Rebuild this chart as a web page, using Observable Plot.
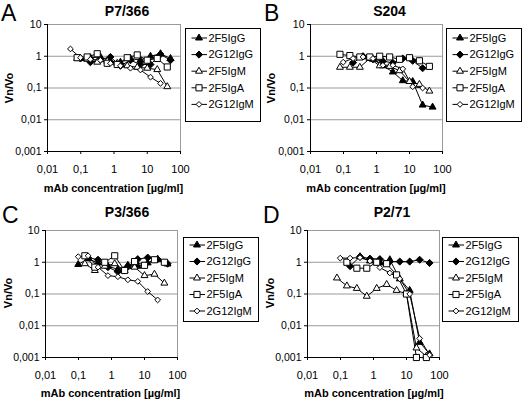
<!DOCTYPE html>
<html><head><meta charset="utf-8">
<script src="https://cdn.jsdelivr.net/npm/d3@7"></script>
<script src="https://cdn.jsdelivr.net/npm/@observablehq/plot@0.6"></script>
<style>
body{margin:0;background:#fff;}
#fig{position:relative;width:523px;height:404px;overflow:hidden;background:#fff;font-family:"Liberation Sans",Arial,sans-serif;color:#000;}
.abs{position:absolute;white-space:nowrap;line-height:1;}
</style></head><body><div id="fig"></div>
<script>
// ---- labels ----
const seriesNames = ["2F5IgG","2G12IgG","2F5IgM","2F5IgA","2G12IgM"];
const panelLetters = ["A","B","C","D"];
const panelTitles = ["P7/366","S204","P3/366","P2/71"];
const xTicks = [0.01, 0.1, 1, 10, 100];
const yTicks = [0.001, 0.01, 0.1, 1, 10];
const xLabel = "mAb concentration [µg/ml]";
const yLabel = "Vn/Vo";

// ---- concentration series (µg/ml) ----
const concG = [0.098, 0.195, 0.39, 0.78, 1.56, 3.125, 6.25, 12.5, 25, 50];
const concM = [0.078, 0.156, 0.3125, 0.625, 1.25, 2.5, 5, 10, 20, 40];
const concL = [0.049, 0.098, 0.195, 0.39, 0.78, 1.56, 3.125, 6.25, 12.5, 25];

// ---- A: P7/366 ----
const A_2F5IgG  = [0.85, 0.9, 0.95, 0.7, 0.65, 0.85, 0.75, 1.0, 1.2, 0.85];
const A_2G12IgG = [0.85, 0.65, 0.8, 0.95, 0.5, 0.75, 0.55, 0.55, 1.15, 0.75];
const A_2F5IgM  = [0.85, 0.8, 0.65, 0.7, 0.6, 0.5, 0.45, 0.42, 0.38, 0.11];
const A_2F5IgA  = [0.9, 0.95, 1.2, 0.6, 0.55, 0.9, 1.1, 0.75, 0.85, 0.46];
const A_2G12IgM = [1.7, 0.9, 0.8, 0.75, 0.6, 0.5, 0.42, 0.37, 0.22, 0.14];
// ---- B: S204 ----
const B_2F5IgG  = [null, null, 0.95, 0.8, 0.5, 0.32, 0.17, 0.16, 0.029, 0.025];
const B_2G12IgG = [null, 0.63, 1.0, 0.8, 0.7, 0.62, 0.85, 0.72, 0.42, null];
const B_2F5IgM  = [0.45, 0.45, 0.45, 0.85, 0.5, 0.48, 0.35, 0.16, 0.13, 0.08];
const B_2F5IgA  = [1.15, 1.05, 0.95, 0.95, 1.0, 0.95, 0.8, 0.9, 0.72, 0.48];
const B_2G12IgM = [0.65, 0.85, 0.95, 0.85, 0.52, 0.52, 0.4, 0.11, 0.1, null];
// ---- C: P3/366 ----
const C_2F5IgG  = [0.85, 1.3, 0.95, 0.75, 0.6, 0.8, 0.75, 0.95, 1.25, 0.88];
const C_2G12IgG = [null, 1.4, 1.2, 0.7, 0.5, 0.75, 1.25, 1.4, 1.25, 0.9];
const C_2F5IgM  = [null, 0.9, 0.55, 0.75, 0.9, 0.55, 0.7, 0.38, 0.42, 0.22];
const C_2F5IgA  = [null, 1.6, 0.7, 1.0, 1.6, 0.55, 1.05, 0.8, 1.2, 1.0];
const C_2G12IgM = [1.5, 1.6, 0.7, 0.38, 0.35, 0.28, 0.25, 0.12, 0.065, null];
// ---- D: P2/71 ----
const D_2F5IgG  = [null, null, 1.5, 1.1, 0.95, 1.2, 0.3, 0.13, 0.003, 0.0013];
const D_2G12IgG = [null, 0.75, 1.5, 1.3, 1.25, 1.05, 1.05, 1.05, 1.2, 0.95];
const D_2F5IgM  = [0.32, 0.18, 0.15, 0.085, 0.15, 0.2, 0.13, 0.1, 0.002, 0.0011];
const D_2F5IgA  = [null, 1.0, 0.65, 0.65, 1.0, 0.9, 0.4, 0.1, 0.001, 0.001];
const D_2G12IgM = [1.35, 1.35, 1.4, 1.1, 0.68, 0.46, 0.3, 0.1, 0.004, 0.0012];

const panelValues = [
  [A_2F5IgG, A_2G12IgG, A_2F5IgM, A_2F5IgA, A_2G12IgM],
  [B_2F5IgG, B_2G12IgG, B_2F5IgM, B_2F5IgA, B_2G12IgM],
  [C_2F5IgG, C_2G12IgG, C_2F5IgM, C_2F5IgA, C_2G12IgM],
  [D_2F5IgG, D_2G12IgG, D_2F5IgM, D_2F5IgA, D_2G12IgM]
];
const panelConc = [
  [concG, concG, concM, concM, concL],
  [concG, concG, concM, concM, concG],
  [concG, concG, concM, concM, concG],
  [concG, concG, concM, concM, concG]
];

// ---- styling ----
const FONT = '"Liberation Sans", Arial, sans-serif';
const GRID = "#9a9a9a";
const sym = [
  {plot: "triangle2", d3: d3.symbolTriangle2, r: 3.3, fill: "black"},
  {plot: "diamond2",  d3: d3.symbolDiamond2,  r: 3.2, fill: "black"},
  {plot: "triangle2", d3: d3.symbolTriangle2, r: 3.3, fill: "white"},
  {plot: "square2",   d3: d3.symbolSquare2,   r: 3.9, fill: "white"},
  {plot: "diamond2",  d3: d3.symbolDiamond2,  r: 2.6, fill: "white"}
];
const fmt = d => String(d).replace(".", ",");

// layout of each panel [left, top, width, height, mL, mR, mT, mB, tickPadX]
const layout = [
  [0,   0,   262, 200, 47, 82, 24, 49, 10.5],
  [262, 0,   261, 200, 48, 81, 24, 49, 10.5],
  [0,   200, 262, 204, 45, 85, 30, 47, 11],
  [262, 200, 261, 204, 45, 84, 30, 47, 11]
];
// text positions
const letterPos = [[1, 2], [264, 2], [2, 204], [263, 204]];
const titlePos  = [[127, 4], [389.5, 4], [127, 205], [392, 205]];
const yLabPos   = [[9, 88], [271, 88], [8, 293], [270, 293]];
const xLabPos   = [[113.5, 182.5], [376, 182.5], [110.5, 388], [374, 388]];
const legendBox = [[185, 28, 76, 94, 10, 16.6], [446, 28, 76, 94, 10, 16.6],
                   [183, 237, 76, 85, 8, 16.5], [442, 237, 77, 85, 8, 16.5]];

const fig = document.getElementById("fig");

function addText(txt, x, y, css) {
  const d = document.createElement("div");
  d.className = "abs";
  d.textContent = txt;
  d.style.left = x + "px"; d.style.top = y + "px";
  Object.assign(d.style, css || {});
  fig.appendChild(d);
  return d;
}

panelTitles.forEach((title, p) => {
  const [L, T, W, H, mL, mR, mT, mB, tpx] = layout[p];
  const marks = [
    Plot.ruleY([0.01, 0.1, 1, 10], {stroke: GRID, strokeWidth: 1}),
    Plot.ruleX([100], {stroke: GRID, strokeWidth: 1}),
    Plot.axisX({ticks: xTicks, tickFormat: fmt, tickSize: 3, tickPadding: tpx, label: null, fontSize: 11}),
    Plot.axisY({ticks: yTicks, tickFormat: fmt, tickSize: 3, tickPadding: 3, label: null, fontSize: 10.5}),
    Plot.ruleX([0.01], {stroke: "black", strokeWidth: 1}),
    Plot.ruleY([0.001], {stroke: "black", strokeWidth: 1})
  ];
  seriesNames.forEach((name, s) => {
    const vals = panelValues[p][s], conc = panelConc[p][s];
    const data = vals.map((v, i) => ({c: conc[i], v})).filter(d => d.v != null);
    marks.push(Plot.line(data, {x: "c", y: "v", stroke: "black", strokeWidth: 1}));
  });
  seriesNames.forEach((name, s) => {
    const vals = panelValues[p][s], conc = panelConc[p][s];
    const data = vals.map((v, i) => ({c: conc[i], v})).filter(d => d.v != null);
    marks.push(Plot.dot(data, {x: "c", y: "v", symbol: sym[s].plot, r: sym[s].r,
      fill: sym[s].fill, stroke: "black", strokeWidth: 1}));
  });
  const svg = Plot.plot({
    width: W, height: H,
    marginLeft: mL, marginRight: mR, marginTop: mT, marginBottom: mB,
    x: {type: "log", domain: [0.01, 100]},
    y: {type: "log", domain: [0.001, 10]},
    style: {fontFamily: FONT, color: "black", background: "transparent", overflow: "visible"},
    marks
  });
  svg.style.position = "absolute";
  svg.style.left = L + "px"; svg.style.top = T + "px";
  fig.appendChild(svg);

  // legend
  const [lx, ly, lw, lh, g0, step] = legendBox[p];
  const lg = d3.create("svg").attr("width", lw).attr("height", lh)
    .style("position", "absolute").style("left", lx + "px").style("top", ly + "px").style("overflow", "visible");
  lg.append("rect").attr("x", 0.5).attr("y", 0.5).attr("width", lw - 1).attr("height", lh - 1)
    .attr("fill", "white").attr("stroke", "black");
  seriesNames.forEach((name, s) => {
    const cy = g0 + s * step;
    lg.append("line").attr("x1", 6.5).attr("x2", 22).attr("y1", cy).attr("y2", cy).attr("stroke", "black");
    lg.append("path").attr("transform", `translate(14,${cy})`)
      .attr("d", d3.symbol(sym[s].d3, Math.PI * sym[s].r * sym[s].r)())
      .attr("fill", sym[s].fill).attr("stroke", "black");
    lg.append("text").attr("x", 23.5).attr("y", cy).attr("dy", "0.35em")
      .attr("font-family", FONT).attr("font-size", 11).text(name);
  });
  fig.appendChild(lg.node());

  // texts
  addText(panelLetters[p], letterPos[p][0], letterPos[p][1], {fontSize: "23px"});
  addText(title, titlePos[p][0], titlePos[p][1], {fontSize: "14px", fontWeight: "bold", transform: "translateX(-50%)"});
  addText(yLabel, yLabPos[p][0], yLabPos[p][1], {fontSize: "11px", fontWeight: "bold", transform: "translate(-50%,-50%) rotate(-90deg)"});
  addText(xLabel, xLabPos[p][0], xLabPos[p][1], {fontSize: "11px", fontWeight: "bold", transform: "translateX(-50%)"});
});
</script></body></html>
